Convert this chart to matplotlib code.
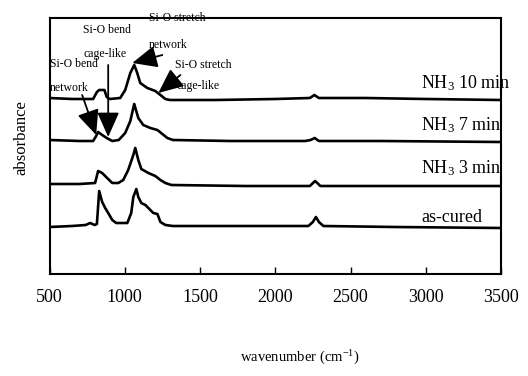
import matplotlib
matplotlib.use('Agg')
import matplotlib.pyplot as plt

plt.rcParams['font.family'] = ['Liberation Serif', 'DejaVu Serif']
plt.rcParams['mathtext.fontset'] = 'custom'
plt.rcParams['mathtext.rm'] = 'Liberation Serif'
plt.rcParams['mathtext.it'] = 'Liberation Serif:italic'

# spectra (wavenumber in cm-1, stacked absorbance in arbitrary units)
wn_10 = [500, 650, 790, 815, 830, 865, 880, 900, 970, 1003, 1037, 1063, 1083, 1103, 1150,
         1203, 1237, 1270, 1300, 1600, 2000, 2230, 2260, 2290, 2600, 3000, 3500]
ab_10 = [176, 175, 175, 182, 184, 184, 177, 175, 176, 184, 201, 209, 201, 191, 186,
         183, 179, 175, 174, 174, 175, 176, 179, 176, 176, 175, 174]

wn_7 = [500, 700, 790, 810, 823, 850, 880, 917, 960, 1003, 1037, 1063, 1090, 1123, 1170,
        1217, 1250, 1283, 1320, 1700, 2200, 2235, 2262, 2290, 2700, 3500]
ab_7 = [134, 133, 133, 138, 142, 139, 136, 133, 134, 141, 153, 170, 156, 149, 146,
        144, 140, 136, 134, 133, 133, 134, 136, 133, 133, 132]

wn_3 = [500, 700, 803, 823, 850, 883, 917, 957, 990, 1023, 1057, 1070, 1090, 1110, 1157,
        1203, 1237, 1270, 1310, 1800, 2230, 2265, 2300, 2800, 3500]
ab_3 = [90, 90, 91, 103, 101, 96, 91, 91, 94, 104, 119, 126, 114, 105, 101,
        98, 94, 91, 89, 88, 88, 93, 88, 88, 88]

wn_ac = [500, 650, 740, 770, 800, 815, 830, 850, 870, 890, 917, 943, 1017, 1043, 1057, 1077,
         1090, 1110, 1137, 1157, 1190, 1217, 1237, 1270, 1320, 1800, 2220, 2250, 2270, 2290,
         2320, 2800, 3500]
ab_ac = [47, 48, 49, 51, 49, 50, 83, 72, 66, 61, 54, 51, 51, 61, 77, 85,
         77, 71, 69, 66, 61, 60, 52, 49, 48, 48, 48, 52, 57, 52,
         48, 47, 46]

labels = ['NH$_3$ 10 min', 'NH$_3$ 7 min', 'NH$_3$ 3 min', 'as-cured']
label_y = [191, 149, 106, 57]
xticks = [500, 1000, 1500, 2000, 2500, 3000, 3500]

fig = plt.figure(figsize=(5.28, 3.76), dpi=100)
ax = fig.add_axes([49.5 / 528, 102 / 376, 451.5 / 528, 256 / 376])

for wn, ab in [(wn_10, ab_10), (wn_7, ab_7), (wn_3, ab_3), (wn_ac, ab_ac)]:
    ax.plot(wn, ab, color='black', lw=1.9, solid_joinstyle='round')

for lab, ly in zip(labels, label_y):
    ax.text(2970, ly, lab, fontsize=13, ha='left', va='center', clip_on=False)

# peak assignments
ann = dict(fontsize=8.5, va='center', clip_on=False)
ax.text(505, 210, 'Si-O bend', ha='left', **ann)
ax.text(505, 186, 'network', ha='left', **ann)
ax.text(882, 244, 'Si-O bend', ha='center', **ann)
ax.text(869, 220, 'cage-like', ha='center', **ann)
ax.text(1347, 256, 'Si-O stretch', ha='center', **ann)
ax.text(1287, 229, 'network', ha='center', **ann)
ax.text(1520, 209, 'Si-O stretch', ha='center', **ann)
ax.text(1487, 188, 'cage-like', ha='center', **ann)

arrow = dict(arrowstyle='-|>,head_length=0.9,head_width=0.4', mutation_scale=17,
             color='black', lw=1.3, shrinkA=0, shrinkB=0)
ax.annotate('', xy=(810, 139), xytext=(717, 179), arrowprops=arrow)
ax.annotate('', xy=(890, 137), xytext=(890, 209), arrowprops=arrow)
ax.annotate('', xy=(1050, 211), xytext=(1250, 219), arrowprops=arrow)
ax.annotate('', xy=(1223, 181), xytext=(1370, 199), arrowprops=arrow)

ax.set_xlim(500, 3500)
ax.set_ylim(0, 256)
ax.set_xticks(xticks)
ax.set_xticklabels([str(t) for t in xticks])
ax.set_yticks([])
ax.tick_params(axis='x', direction='in', length=5, width=1, pad=11, labelsize=13)
for s in ax.spines.values():
    s.set_linewidth(1.5)

fig.text(21 / 528, 1 - 138 / 376, 'absorbance', rotation=90, fontsize=12,
         ha='center', va='center')
fig.text(300 / 528, 1 - 358 / 376, 'wavenumber (cm$^{-1}$)', fontsize=10.5,
         ha='center', va='center')

fig.savefig('out.png', dpi=100)
